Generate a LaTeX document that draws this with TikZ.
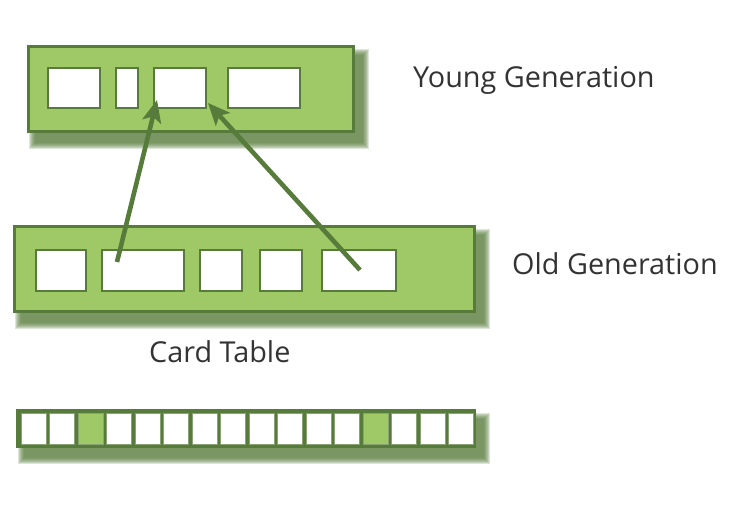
\documentclass[tikz,border=0pt]{standalone}
\usepackage{fontspec}
\setmainfont{Open Sans}
\usetikzlibrary{arrows.meta,backgrounds}
\definecolor{lgreen}{HTML}{9FC966}
\definecolor{dgreen}{HTML}{567B3A}
\definecolor{txt}{HTML}{333333}
\tikzset{
  gen/.style={draw=dgreen, fill=lgreen, line width=3pt, inner sep=0pt, anchor=north west},
  slot/.style={draw=dgreen, fill=white, line width=2.2pt, inner sep=0pt, anchor=north west},
  card/.style={draw=dgreen!70, fill=white, line width=0.8pt, inner sep=0pt, anchor=north west, minimum width=25pt, minimum height=31pt},
  dirty/.style={card, fill=lgreen},
  lbl/.style={font=\fontsize{28.8}{34}\selectfont, text=txt, anchor=base west, inner sep=0pt},
  ref/.style={draw=dgreen, line width=4.6pt, -{Stealth[length=22pt,width=19pt,inset=5pt]}},
  shd/.style={fill=dgreen, opacity=0.2}
}
\begin{document}
\begin{tikzpicture}[x=1pt,y=-1pt]
\useasboundingbox (0,0) rectangle (734,514);
% Young generation
\node[gen, minimum width=325pt, minimum height=85pt] (Y) at (27,45) {};
\node[slot, minimum width=52pt, minimum height=40pt] (Y1) at (47,67) {};
\node[slot, minimum width=22pt, minimum height=40pt] (Y2) at (115,67) {};
\node[slot, minimum width=52pt, minimum height=40pt] (Y3) at (153,67) {};
\node[slot, minimum width=72pt, minimum height=40pt] (Y4) at (227,67) {};
% Old generation
\node[gen, minimum width=460pt, minimum height=85pt] (O) at (13,225) {};
\node[slot, minimum width=50pt, minimum height=41pt] (O1) at (35,249) {};
\node[slot, minimum width=82pt, minimum height=41pt] (O2) at (101,249) {};
\node[slot, minimum width=42pt, minimum height=41pt] (O3) at (199,249) {};
\node[slot, minimum width=42pt, minimum height=41pt] (O4) at (259,249) {};
\node[slot, minimum width=74pt, minimum height=41pt] (O5) at (321,249) {};
% Card table
\node[draw=dgreen, fill=dgreen, line width=1pt, inner sep=0pt, anchor=north west, minimum width=459pt, minimum height=38pt] (C) at (16,409) {};
\foreach \i in {0,...,15}{
  \ifnum\i=2 \def\st{dirty}\else\ifnum\i=12 \def\st{dirty}\else\def\st{card}\fi\fi
  \node[\st] (C\i) at ({20.5+28.5*\i},412.5) {};
}
% shadows
\begin{scope}[on background layer]
\foreach \n in {Y,O,C}{
  \foreach \e in {0,1,...,6}{
    \fill[shd] ([shift={(8-\e,10-\e)}]\n.north west) rectangle ([shift={(8+\e,10+\e)}]\n.south east);
  }
}
\end{scope}
% labels
\node[lbl] (ly) at (413,87) {Young Generation};
\node[lbl] (lo) at (512,274) {Old Generation};
\node[lbl] (lc) at (149,362) {Card Table};
% references
\coordinate (s1) at (117,262);
\coordinate (t1) at (157,100);
\coordinate (s2) at (360,270);
\coordinate (t2) at (208,103);
\draw[ref] (s1) -- (t1);
\draw[ref] (s2) -- (t2);
\end{tikzpicture}
\end{document}
